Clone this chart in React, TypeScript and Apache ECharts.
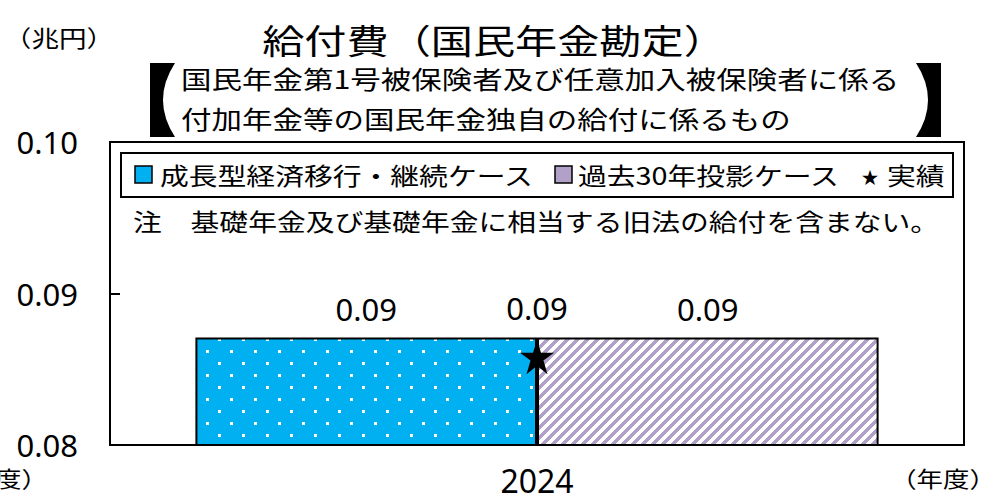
import React, { useEffect, useRef } from 'react';
import * as echarts from 'echarts';

// ---- data ----
const categories = ['2024'];
const growthCase = [0.0871];
const past30Case = [0.0871];
const actual = [0.0858];
const yMin = 0.08;
const yMax = 0.1;
const yStep = 0.01;

const titleText = '給付費（国民年金勘定）';
const unitText = '（兆円）';
const yearText = '（年度）';
const subLine1 = '国民年金第1号被保険者及び任意加入被保険者に係る';
const subLine2 = '付加年金等の国民年金独自の給付に係るもの';
const legendNames = ['成長型経済移行・継続ケース', '過去30年投影ケース', '実績'];
const noteText = '注　基礎年金及び基礎年金に相当する旧法の給付を含まない。';

const CJK = "'Noto Sans CJK JP', sans-serif";
const LAT = "'Noto Sans', sans-serif";
const BLUE = '#00B0F0';
const PURPLE = '#B1A0C7';
const STAR = 'path://M50 0 L61.8 35.4 L100 35.4 L69.1 57.3 L80.9 95.1 L50 72 L19.1 95.1 L30.9 57.3 L0 35.4 L38.2 35.4 Z';

echarts.graphic.registerShape('lbracket', echarts.graphic.extendPath('M0 0 H25 Q1 37 25 74 H0 Z', {}) as any);
echarts.graphic.registerShape('rbracket', echarts.graphic.extendPath('M25 0 H0 Q24 37 0 74 H25 Z', {}) as any);

function dotTile(): string {
  const c = document.createElement('canvas');
  c.width = 24;
  c.height = 24;
  const g = c.getContext('2d')!;
  g.fillStyle = BLUE;
  g.fillRect(0, 0, 24, 24);
  g.fillStyle = '#fff';
  g.fillRect(2, 2, 3, 3);
  g.fillRect(14, 14, 3, 3);
  return c.toDataURL();
}

function stripeTile(): string {
  const n = 10;
  const c = document.createElement('canvas');
  c.width = n;
  c.height = n;
  const g = c.getContext('2d')!;
  g.fillStyle = PURPLE;
  g.fillRect(0, 0, n, n);
  g.fillStyle = '#fff';
  for (let y = 0; y < n; y++) {
    for (let k = 0; k < 5; k++) {
      const x = (n - 1 - y + k + n) % n;
      g.fillRect(x, y, 1, 1);
    }
  }
  return c.toDataURL();
}

function txt(text: string, x: number, y: number, size: number, sx: number, align: string = 'left') {
  return {
    type: 'text',
    x,
    y,
    scaleX: sx,
    silent: true,
    z: 10,
    style: {
      text,
      fontSize: size,
      fontFamily: CJK,
      fill: '#000',
      align,
      textAlign: align,
      verticalAlign: 'middle',
      textVerticalAlign: 'middle',
    },
  };
}

const fmt = (v: any) => {
  const n = Array.isArray(v) ? v[v.length - 1] : v;
  return Number(n).toFixed(2);
};

export default function App() {
  const ref = useRef<HTMLDivElement>(null);

  useEffect(() => {
    if (!ref.current) return;
    const chart = echarts.init(ref.current, null, { renderer: 'svg' });

    const bluePattern: any = { image: dotTile(), repeat: 'repeat', imageWidth: 24, imageHeight: 24 };
    const purplePattern: any = { image: stripeTile(), repeat: 'repeat', imageWidth: 10, imageHeight: 10 };

    const dataLabel = {
      show: true,
      position: 'top',
      distance: 13,
      fontSize: 31,
      color: '#000',
      fontFamily: LAT,
      formatter: (p: any) => fmt(p.value),
    };

    const option: any = {
      animation: false,
      backgroundColor: '#fff',
      textStyle: { fontFamily: LAT, color: '#000' },
      grid: {
        left: 110,
        right: 33,
        top: 142,
        bottom: 57,
        show: true,
        borderColor: '#000',
        borderWidth: 2,
        backgroundColor: 'transparent',
      },
      xAxis: {
        type: 'category',
        data: categories,
        axisLine: { show: true, lineStyle: { color: '#000', width: 2 } },
        axisTick: { show: false },
        axisLabel: { fontSize: 32, lineHeight: 30, color: '#000', margin: 20, fontFamily: LAT },
      },
      yAxis: {
        type: 'value',
        min: yMin,
        max: yMax,
        interval: yStep,
        splitLine: { show: false },
        axisLine: { show: true, lineStyle: { color: '#000', width: 2 } },
        axisTick: { show: true, inside: true, length: 10, lineStyle: { color: '#000', width: 2 } },
        axisLabel: {
          fontSize: 31,
          color: '#000',
          margin: 32,
          fontFamily: LAT,
          formatter: (v: number) => v.toFixed(2),
        },
      },
      series: [
        {
          name: legendNames[0],
          type: 'bar',
          data: growthCase,
          barGap: '0%',
          barCategoryGap: '20%',
          itemStyle: { color: bluePattern, borderColor: '#000', borderWidth: 2 },
          label: dataLabel,
        },
        {
          name: legendNames[1],
          type: 'bar',
          data: past30Case,
          itemStyle: { color: purplePattern, borderColor: '#000', borderWidth: 2 },
          label: dataLabel,
        },
        {
          name: legendNames[2],
          type: 'scatter',
          data: actual,
          symbol: STAR,
          symbolSize: 34,
          z: 5,
          itemStyle: { color: '#000', opacity: 1 },
          label: { ...dataLabel, distance: 17 },
        },
      ],
      graphic: [
        txt(titleText, 494, 39, 34, 1.24, 'center'),
        txt(unitText, 59, 37, 23, 1.2, 'center'),
        txt(yearText, 943, 477, 22, 1.2, 'center'),
        txt(yearText, -5, 477, 22, 1.2, 'center'),
        { type: 'lbracket', x: 150, y: 63, silent: true, style: { fill: '#000' } },
        { type: 'rbracket', x: 916, y: 63, silent: true, style: { fill: '#000' } },
        txt(subLine1, 181, 78, 25, 1.22),
        txt(subLine2, 181, 118, 25, 1.22),
        {
          type: 'rect',
          silent: true,
          z: 9,
          shape: { x: 121, y: 153, width: 832, height: 44 },
          style: { fill: '#fff', stroke: '#000', lineWidth: 2 },
        },
        {
          type: 'rect',
          silent: true,
          z: 10,
          shape: { x: 135, y: 166, width: 17, height: 17 },
          style: { fill: BLUE, stroke: '#000', lineWidth: 1.5 },
        },
        txt(legendNames[0], 160, 175, 24, 1.2),
        {
          type: 'rect',
          silent: true,
          z: 10,
          shape: { x: 555, y: 166, width: 17, height: 17 },
          style: { fill: PURPLE, stroke: '#000', lineWidth: 1.5 },
        },
        txt(legendNames[1], 578, 175, 24, 1.2),
        txt('★', 870, 176, 17, 1, 'center'),
        txt(legendNames[2], 887, 175, 24, 1.2),
        txt(noteText, 133, 221, 24, 1.2),
      ],
    };

    chart.setOption(option);
    return () => chart.dispose();
  }, []);

  return (
    <div
      ref={ref}
      style={{ position: 'fixed', left: 0, top: 0, width: 997, height: 502, background: '#fff' }}
    />
  );
}
